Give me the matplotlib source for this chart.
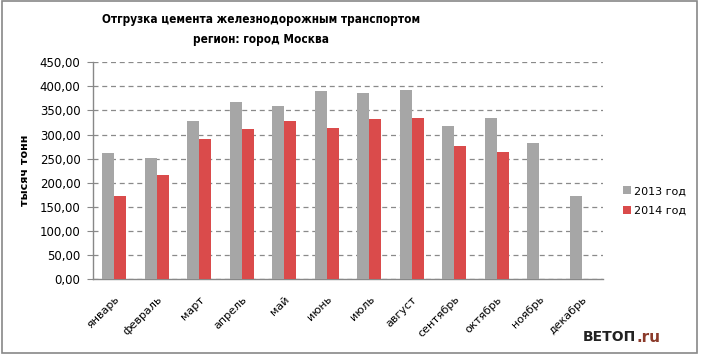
import matplotlib
matplotlib.use("Agg")
import matplotlib.pyplot as plt
from matplotlib.patches import Rectangle
from matplotlib.ticker import FuncFormatter, MultipleLocator
import numpy as np

months = ["январь", "февраль", "март", "апрель", "май", "июнь", "июль",
          "август", "сентябрь", "октябрь", "ноябрь", "декабрь"]
values_2013 = [262, 251, 328, 368, 359, 390, 386, 392, 318, 334, 282, 172]
values_2014 = [172, 216, 291, 312, 328, 314, 332, 334, 276, 264, np.nan, np.nan]
series_labels = ["2013 год", "2014 год"]
title_text = "Отгрузка цемента железнодорожным транспортом\nрегион: город Москва"
ylabel_text = "тысяч тонн"

c13 = "#A6A6A6"
c14 = "#DA4B4B"

fig = plt.figure(figsize=(7.01, 3.57), dpi=100)
W, H = 701, 357
ax = fig.add_axes([93 / W, 1 - 279 / H, (603 - 93) / W, (279 - 62.3) / H])

x = np.arange(len(months))
bw = 0.28
ax.bar(x - bw / 2, values_2013, bw, color=c13, label=series_labels[0], zorder=3)
ax.bar(x + bw / 2, values_2014, bw, color=c14, label=series_labels[1], zorder=3)

ax.set_xlim(-0.5, len(months) - 0.5)
ax.set_ylim(0, 450)
ax.yaxis.set_major_locator(MultipleLocator(50))
ax.yaxis.set_major_formatter(FuncFormatter(lambda v, p: f"{v:.2f}".replace(".", ",")))
ax.grid(axis="y", color="#8A8A8A", linestyle=(0, (4, 3)), linewidth=0.9, zorder=0)
for s in ["top", "right"]:
    ax.spines[s].set_visible(False)
for s in ["left", "bottom"]:
    ax.spines[s].set_color("#888888")
    ax.spines[s].set_linewidth(1.0)
ax.tick_params(axis="y", labelsize=8.5, length=4, color="#888888", pad=5)
ax.tick_params(axis="x", length=0, pad=11)
ax.set_xticks(x)
ax.set_xticklabels(months, rotation=45, ha="right", va="top",
                   rotation_mode="anchor", fontsize=8)

ax.set_ylabel(ylabel_text, fontsize=8, fontweight="bold", labelpad=7)

fig.text(261 / W, 1 - 29 / H, title_text, ha="center", va="center",
         fontsize=8.5, fontweight="bold", linespacing=1.7,
         family="DejaVu Sans", fontstretch="condensed")

ax.legend(loc="center left", bbox_to_anchor=(1.02, 0.36), frameon=False,
          prop={"size": 8}, handlelength=0.7, handleheight=0.7,
          handletextpad=0.3, labelspacing=0.85)

# watermark
fig.text(583 / W, 1 - 337 / H, "ВЕТОП", ha="left", va="center", fontsize=10,
         fontweight="bold", color="#222222", family="DejaVu Sans")
fig.text(636 / W, 1 - 337 / H, ".ru", ha="left", va="center", fontsize=11,
         fontweight="bold", color="#8B3A2A", family="DejaVu Sans")

fig.patches.append(Rectangle((2 / W, 1 - 353 / H), 695 / W, 352 / H,
                             transform=fig.transFigure, fill=False,
                             edgecolor="#888888", linewidth=1.2))

fig.savefig("out.png", dpi=100)
